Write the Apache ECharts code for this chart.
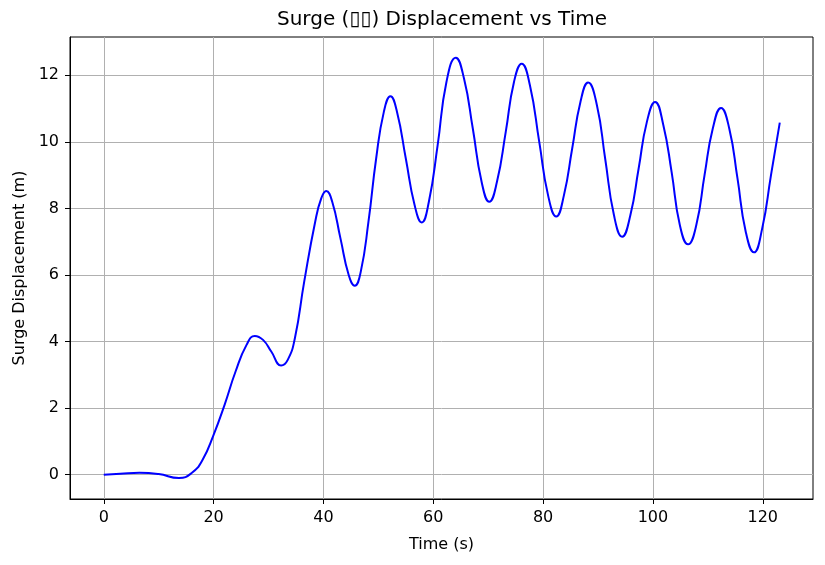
<!DOCTYPE html>
<html>
<head>
<meta charset="utf-8">
<script src="https://cdn.jsdelivr.net/npm/echarts@6/dist/echarts.min.js"></script>
<style>
  html, body { margin: 0; padding: 0; background: #fff; }
  #chart { width: 825px; height: 565px; }
</style>
</head>
<body>
<div id="chart"></div>
<script>
// time (s) and surge displacement (m)
const timeS = [
  0, 3, 6.5, 10, 13.7, 16, 18, 20, 22, 24, 26, 27.5, 29, 30.5, 32.3, 33.5, 34.8,
  36.5, 38.5, 39.6, 40.5, 41.6, 43.1, 44.6, 45.7, 46.8, 48.2, 49.6, 51.0, 52.2,
  53.4, 55.0, 56.6, 57.9, 59.2, 60.8, 62.4, 64.1, 65.6, 67.2, 68.8, 70.2, 71.6,
  73.2, 74.7, 76.1, 77.6, 79.3, 80.9, 82.4, 83.8, 85.3, 86.8, 88.2, 89.8, 91.3,
  92.9, 94.4, 95.9, 97.4, 98.9, 100.4, 101.9, 103.4, 104.9, 106.4, 107.9, 109.4,
  110.9, 112.4, 113.9, 115.4, 116.9, 118.4, 119.9, 121.5, 123.1
];
const surge = [
  0.00, 0.03, 0.06, 0.02, -0.10, 0.05, 0.45, 1.2, 2.1, 3.1, 3.9, 4.17, 4.05, 3.7, 3.28, 3.45, 4.1,
  5.8, 7.6, 8.3, 8.52, 8.2, 7.1, 6.0, 5.68, 6.1, 7.6, 9.5, 10.9, 11.37,
  10.9, 9.5, 8.1, 7.58, 8.2, 9.9, 11.8, 12.53, 11.9, 10.4, 8.8, 8.2, 8.8,
  10.3, 11.8, 12.35, 11.7, 10.0, 8.4, 7.76, 8.4, 9.8, 11.2, 11.78, 11.1, 9.5,
  7.8, 7.15, 7.8, 9.2, 10.6, 11.2, 10.5, 9.1, 7.5, 6.92, 7.5, 9.0,
  10.4, 11.02, 10.4, 8.9, 7.3, 6.68, 7.4, 9.0, 10.58
];

const xTicks = [0, 20, 40, 60, 80, 100, 120];
const yTicks = [0, 2, 4, 6, 8, 10, 12];

const chart = echarts.init(document.getElementById("chart"));

const font = "DejaVu Sans";

const axisCommon = {
  axisLine: { show: true, onZero: false, lineStyle: { color: "#000", width: 1 } },
  axisTick: { show: true, length: 5, lineStyle: { color: "#000", width: 1 } },
  axisLabel: { color: "#000", fontSize: 16, fontFamily: font, margin: 11 },
  splitLine: { show: true, lineStyle: { color: "#b0b0b0", width: 1 } },
  nameLocation: "middle",
  nameTextStyle: { color: "#000", fontSize: 16, fontFamily: font },
};

const option = {
  animation: false,
  title: {
    text: "Surge (▯▯) Displacement vs Time",
    // centred over the plot area, not the page
    left: 277,
    top: 10,
    padding: 0,
    textStyle: { fontSize: 20, fontWeight: "normal", color: "#000", fontFamily: font },
  },
  grid: {
    left: 70,
    right: 12,
    top: 37,
    bottom: 66,
    show: true,
    borderColor: "#000",
    borderWidth: 1,
  },
  xAxis: {
    ...axisCommon,
    type: "value",
    name: "Time (s)",
    nameGap: 38,
    min: -6.15,
    max: 129.15,
    axisTick: { ...axisCommon.axisTick, customValues: xTicks },
    axisLabel: { ...axisCommon.axisLabel, customValues: xTicks },
  },
  yAxis: {
    ...axisCommon,
    type: "value",
    name: "Surge Displacement (m)",
    nameGap: 42,
    min: -0.73,
    max: 13.15,
    axisTick: { ...axisCommon.axisTick, customValues: yTicks },
    axisLabel: { ...axisCommon.axisLabel, customValues: yTicks },
  },
  series: [
    {
      type: "line",
      data: timeS.map((t, i) => [t, surge[i]]),
      smooth: 0.5,
      showSymbol: false,
      lineStyle: { color: "#0000ff", width: 2 },
    },
  ],
};

chart.setOption(option);
</script>
</body>
</html>
